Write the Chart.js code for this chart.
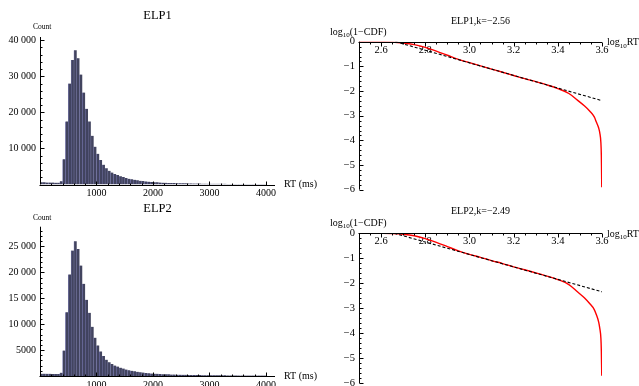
<!DOCTYPE html>
<html lang="en">
<head>
<meta charset="UTF-8">
<title>ELP response times</title>
<script src="https://cdn.jsdelivr.net/npm/chart.js"></script>
<style>
  body { margin: 0; background: #fff; }
  #wrap { position: relative; width: 639px; height: 386px; overflow: hidden; }
  canvas { position: absolute; }
</style>
</head>
<body>
<div id="wrap">
  <canvas id="h1" width="320" height="200" style="left:0;top:0"></canvas>
  <canvas id="h2" width="320" height="200" style="left:0;top:195px"></canvas>
  <canvas id="t1" width="319" height="200" style="left:320px;top:0"></canvas>
  <canvas id="t2" width="319" height="200" style="left:320px;top:195px"></canvas>
</div>

<script>
  // histogram bins (ms), 50 ms wide
  const binWidth = 50;
  const rtBins = [
    0, 50, 100, 150, 200, 250, 300, 350, 400, 450,
    500, 550, 600, 650, 700, 750, 800, 850, 900, 950,
    1000, 1050, 1100, 1150, 1200, 1250, 1300, 1350, 1400, 1450,
    1500, 1550, 1600, 1650, 1700, 1750, 1800, 1850, 1900, 1950,
    2000, 2050, 2100, 2150, 2200, 2250, 2300, 2350, 2400, 2450,
    2500, 2550, 2600, 2650, 2700, 2750, 2800, 2850, 2900, 2950,
    3000, 3050, 3100, 3150, 3200, 3250, 3300, 3350, 3400, 3450,
    3500, 3550, 3600, 3650, 3700, 3750, 3800, 3850, 3900, 3950
  ];
  const elp1Counts = [
    600, 600, 550, 550, 550, 500, 500, 900, 7000, 17500,
    28000, 34500, 37200, 35000, 30500, 25500, 21000, 17500, 13500, 10500,
    8500, 6800, 5500, 4500, 3800, 3300, 2900, 2600, 2300, 2050,
    1800, 1600, 1450, 1300, 1150, 1050, 950, 850, 780, 700,
    640, 590, 550, 510, 480, 450, 420, 400, 380, 360,
    340, 320, 300, 290, 275, 260, 250, 240, 230, 220,
    210, 200, 195, 190, 180, 175, 170, 165, 160, 155,
    150, 145, 140, 135, 130, 125, 120, 115, 110, 105
  ];
  const elp2Counts = [
    450, 450, 420, 420, 400, 400, 380, 650, 4900, 12300,
    19600, 24200, 26000, 24500, 21300, 17800, 14700, 12200, 9500, 7400,
    5900, 4750, 3850, 3150, 2650, 2300, 2030, 1820, 1610, 1430,
    1260, 1120, 1010, 910, 800, 735, 665, 595, 545, 490,
    450, 415, 385, 357, 335, 315, 295, 280, 265, 252,
    238, 225, 210, 203, 193, 182, 175, 168, 161, 154,
    147, 140, 137, 133, 126, 123, 119, 116, 112, 109,
    105, 102, 98, 95, 91, 88, 84, 81, 77, 74
  ];
  const rtTicks = [1000, 2000, 3000, 4000];
  const elp1CountTicks = [10000, 20000, 30000, 40000];
  const elp2CountTicks = [5000, 10000, 15000, 20000, 25000];

  // survival curves, log10 RT vs log10(1 - CDF)
  const logRt = [2.5, 2.55, 2.6, 2.65, 2.7, 2.75, 2.8, 2.85, 2.9, 2.95, 3.0, 3.05, 3.1, 3.15, 3.2, 3.25,
                 3.3, 3.35, 3.4, 3.45, 3.49, 3.52, 3.545, 3.565, 3.575, 3.585, 3.59, 3.595, 3.597, 3.598, 3.599];
  const elp1Tail = [0, 0, -0.002, -0.01, -0.05, -0.12, -0.23, -0.38, -0.55, -0.72, -0.85, -0.98, -1.11, -1.24, -1.37, -1.5,
                    -1.62, -1.75, -1.9, -2.1, -2.38, -2.6, -2.82, -3.05, -3.27, -3.5, -3.7, -4.1, -4.6, -5.2, -5.9];
  const elp2Tail = [0, 0, -0.002, -0.01, -0.04, -0.1, -0.21, -0.36, -0.53, -0.7, -0.84, -0.96, -1.09, -1.21, -1.34, -1.46,
                    -1.58, -1.71, -1.85, -2.05, -2.35, -2.58, -2.82, -3.05, -3.27, -3.55, -3.8, -4.2, -4.7, -5.2, -5.7];
  // power-law fits (endpoints)
  const elp1FitX = [2.665, 3.6], elp1FitY = [0, -2.39];
  const elp2FitX = [2.66, 3.6],  elp2FitY = [0, -2.34];
  const logRtTicks = [2.6, 2.8, 3.0, 3.2, 3.4, 3.6];
  const logSTicks = [0, -1, -2, -3, -4, -5, -6];

  const SERIF = "'Liberation Serif', 'Times New Roman', serif";

  function fmtCount(v) {
    return v >= 10000 ? String(v).replace(/\B(?=(\d{3})+(?!\d))/g, ' ') : String(v);
  }

  const fixedTicks = list => s => { s.ticks = list.map(v => ({ value: v })); };

  // text with subscript pieces: [['log'], ['10', true], ['(1−CDF)']]
  function drawRich(ctx, x, y, parts, size) {
    let cx = x;
    parts.forEach(([t, sub]) => {
      ctx.font = (sub ? size * 0.7 : size) + 'px ' + SERIF;
      ctx.fillText(t, cx, sub ? y + size * 0.3 : y);
      cx += ctx.measureText(t).width;
    });
  }

  // Mathematica style axes: lines through the origin, inward ticks, titles
  const mmaAxes = {
    id: 'mmaAxes',
    afterDatasetsDraw(chart, args, o) {
      const { ctx, chartArea: a, scales: { x, y } } = chart;
      const ax = Math.round(y.getPixelForValue(o.xAxisAt)) + 0.5;
      const ay = Math.round(x.getPixelForValue(x.min)) + 0.5;
      ctx.save();
      ctx.strokeStyle = '#000';
      ctx.lineWidth = 1;
      ctx.beginPath();
      ctx.moveTo(ay - 1, ax); ctx.lineTo(a.right, ax);
      ctx.moveTo(ay, a.top); ctx.lineTo(ay, a.bottom);
      for (let k = 1; ; k++) {
        const v = x.min + k * o.xMinor;
        if (v > x.max + 1e-9) break;
        const q = v / o.xMajor, major = Math.abs(q - Math.round(q)) < 1e-6;
        const px = Math.round(x.getPixelForValue(v)) + 0.5;
        ctx.moveTo(px, ax); ctx.lineTo(px, ax + o.xTickDir * (major ? 4 : 2));
      }
      for (let k = 0; ; k++) {
        const v = y.min + k * o.yMinor;
        if (v > y.max + 1e-9) break;
        if (Math.abs(v - o.xAxisAt) < 1e-9) continue;
        const q = v / o.yMajor, major = Math.abs(q - Math.round(q)) < 1e-6;
        const py = Math.round(y.getPixelForValue(v)) + 0.5;
        ctx.moveTo(ay, py); ctx.lineTo(ay + (major ? 4 : 2), py);
      }
      ctx.stroke();

      ctx.fillStyle = '#000';
      ctx.textBaseline = 'middle';
      ctx.textAlign = 'center';
      ctx.font = o.title.size + 'px ' + SERIF;
      ctx.fillText(o.title.text, o.title.x, o.title.y);
      ctx.textAlign = 'left';
      drawRich(ctx, o.yLabel.x, o.yLabel.y, o.yLabel.parts, o.yLabel.size);
      drawRich(ctx, o.xLabel.x, o.xLabel.y, o.xLabel.parts, o.xLabel.size);
      ctx.restore();
    }
  };

  const tickFont = { family: SERIF, size: 10 };

  function histChart(id, counts, yMax, yTicks, yStep, yMinor, area, text) {
    return new Chart(document.getElementById(id), {
      type: 'bar',
      data: {
        datasets: [{
          data: rtBins.map((b, i) => ({ x: b + binWidth / 2, y: counts[i] })),
          backgroundColor: '#42445f',
          borderColor: 'rgba(35, 35, 140, 0.55)',
          borderWidth: { left: 0.6, right: 0, top: 0, bottom: 0 },
          borderSkipped: false,
          categoryPercentage: 1,
          barPercentage: 1,
          grouped: false
        }]
      },
      options: {
        responsive: false,
        animation: false,
        events: [],
        layout: { padding: { left: 0, right: area.right, top: area.top, bottom: 0 } },
        plugins: {
          legend: { display: false },
          tooltip: { enabled: false },
          mmaAxes: {
            xAxisAt: 0, xMajor: 1000, xMinor: 200, xTickDir: -1,
            yMajor: yStep, yMinor: yMinor,
            title: { text: text.title, x: 157.5, y: text.titleY, size: 12.5 },
            yLabel: { x: 33, y: text.countY, size: 7.5, parts: [['Count']] },
            xLabel: { x: 284, y: area.bottom, size: 10, parts: [['RT (ms)']] }
          }
        },
        scales: {
          x: {
            type: 'linear', min: 0, max: 4160, offset: false,
            afterBuildTicks: fixedTicks(rtTicks),
            afterFit: s => { s.height = 200 - area.bottom; },
            grid: { display: false, drawTicks: false, offset: false },
            border: { display: false },
            ticks: { autoSkip: false, maxRotation: 0, padding: 3, color: '#000', font: tickFont,
                     callback: v => fmtCount(v) }
          },
          y: {
            min: 0, max: yMax,
            afterBuildTicks: fixedTicks(yTicks),
            afterFit: s => { s.width = 40; },
            grid: { display: false, drawTicks: false },
            border: { display: false },
            ticks: { autoSkip: false, padding: 4, color: '#000', font: tickFont,
                     callback: v => fmtCount(v) }
          }
        }
      },
      plugins: [mmaAxes]
    });
  }

  function tailChart(id, tail, fitX, fitY, area, text) {
    return new Chart(document.getElementById(id), {
      type: 'line',
      data: {
        datasets: [
          {
            data: fitX.map((v, i) => ({ x: v, y: fitY[i] })),
            borderColor: '#000', borderWidth: 1.1, borderDash: [3, 2],
            pointRadius: 0, fill: false
          },
          {
            data: logRt.map((v, i) => ({ x: v, y: tail[i] })),
            borderColor: '#ff0000', borderWidth: 1.4,
            pointRadius: 0, fill: false, cubicInterpolationMode: 'monotone'
          }
        ]
      },
      options: {
        responsive: false,
        animation: false,
        events: [],
        layout: { padding: { left: 0, right: 37, top: area.top, bottom: 200 - area.bottom } },
        plugins: {
          legend: { display: false },
          tooltip: { enabled: false },
          mmaAxes: {
            xAxisAt: 0, xMajor: 0.2, xMinor: 0.05, xTickDir: 1,
            yMajor: 1, yMinor: 0.2,
            title: { text: text.title, x: 160.5, y: text.titleY, size: 10 },
            yLabel: { x: 10, y: text.labelY, size: 10, parts: [['log'], ['10', true], ['(1\u2212CDF)']] },
            xLabel: { x: 287, y: area.top + 1, size: 10, parts: [['log'], ['10', true], ['RT']] }
          }
        },
        scales: {
          x: {
            type: 'linear', min: 2.5, max: 3.6,
            position: { y: 0 },
            afterBuildTicks: fixedTicks(logRtTicks),
            afterFit: s => { s.height = 0; },
            grid: { display: false, drawTicks: false },
            border: { display: false },
            ticks: { autoSkip: false, maxRotation: 0, padding: 2, color: '#000',
                     font: { family: SERIF, size: 10.5 }, callback: v => v.toFixed(1) }
          },
          y: {
            type: 'linear', min: -6, max: 0,
            afterBuildTicks: fixedTicks(logSTicks),
            afterFit: s => { s.width = 39; },
            grid: { display: false, drawTicks: false },
            border: { display: false },
            ticks: { autoSkip: false, padding: 4, color: '#000',
                     font: { family: SERIF, size: 10.5 },
                     callback: v => v === 0 ? '0' : '\u2212' + Math.abs(v) }
          }
        }
      },
      plugins: [mmaAxes]
    });
  }

  histChart('h1', elp1Counts, 40900, elp1CountTicks, 10000, 2000, { right: 45, top: 37, bottom: 184.5 },
            { title: 'ELP1', titleY: 16, countY: 27 });
  histChart('h2', elp2Counts, 28800, elp2CountTicks, 5000, 1000, { right: 45, top: 31.7, bottom: 181 },
            { title: 'ELP2', titleY: 13.3, countY: 23.3 });
  tailChart('t1', elp1Tail, elp1FitX, elp1FitY, { top: 41.7, bottom: 191.7 },
            { title: 'ELP1,k=\u22122.56', titleY: 21.7, labelY: 32.3 });
  tailChart('t2', elp2Tail, elp2FitX, elp2FitY, { top: 38.3, bottom: 188.3 },
            { title: 'ELP2,k=\u22122.49', titleY: 16.7, labelY: 28 });
</script>
</body>
</html>
